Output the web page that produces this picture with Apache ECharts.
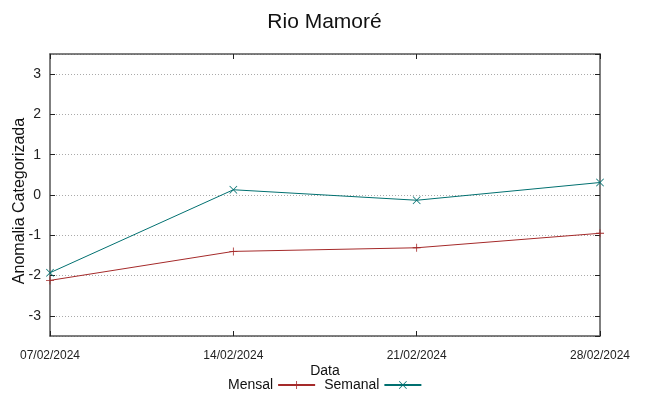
<!DOCTYPE html>
<html>
  <head>
    <meta charset="utf-8">
    <title>Rio Mamoré</title>
    <style>
      html, body {
        margin: 0;
        padding: 0;
        width: 100%;
        height: 100%;
        background: #fff;
      }
      #chart {
        width: 649px;
        height: 396px;
      }
    </style>
  </head>
  <body>
    <div id="chart"></div>
    <script src="https://cdn.jsdelivr.net/npm/echarts@6/dist/echarts.min.js"></script>
    <script type="text/javascript">

      const dates = ['07/02/2024', '14/02/2024', '21/02/2024', '28/02/2024'];
      const mensal = [-2.12, -1.40, -1.31, -0.95];
      const semanal = [-1.93, 0.13, -0.13, 0.31];

      const font = 'Liberation Sans, Arial, sans-serif';
      const frameColor = '#555';

      // gnuplot style point markers, drawn as thin filled shapes
      const plusMark = 'path://M0,4.5H10V5.5H0Z M4.5,0H5.5V10H4.5Z';
      const crossMark = 'path://M0,0.7L0.7,0L10,9.3L9.3,10Z M9.3,0L10,0.7L0.7,10L0,9.3Z';

      const frameAxis = {
        axisLine: { show: true, onZero: false, lineStyle: { color: frameColor, width: 1.5 } },
        axisTick: { show: true, inside: true, length: 5, lineStyle: { color: '#222', width: 1 } }
      };

      const makeSeries = (name, values, color, mark) => ({
        name: name,
        type: 'line',
        data: values,
        symbol: mark,
        symbolSize: 8,
        showSymbol: true,
        lineStyle: { color: color, width: 1 },
        itemStyle: { color: color },
        emphasis: { disabled: true },
        animation: false
      });

      const chart = echarts.init(document.getElementById('chart'));
      chart.setOption({
        animation: false,
        title: {
          text: 'Rio Mamoré',
          left: 'center',
          top: 7,
          textStyle: { fontFamily: font, fontSize: 21, fontWeight: 'normal', color: '#111' }
        },
        legend: {
          left: 223,
          top: 373,
          align: 'right',
          itemWidth: 37,
          itemHeight: 10,
          itemGap: 8,
          textStyle: { fontFamily: font, fontSize: 14, color: '#111' },
          data: ['Mensal', 'Semanal']
        },
        grid: { left: 50, right: 49, top: 54, bottom: 60, containLabel: false, outerBoundsMode: 'none' },
        xAxis: [
          Object.assign({
            type: 'category',
            data: dates,
            boundaryGap: false,
            name: 'Data',
            nameLocation: 'middle',
            nameGap: 28,
            nameMoveOverlap: false,
            nameTextStyle: { fontFamily: font, fontSize: 14, color: '#111' },
            axisLabel: { fontFamily: font, fontSize: 12, color: '#222', margin: 14, showMinLabel: true, showMaxLabel: true, interval: 0 },
            splitLine: { show: false }
          }, frameAxis),
          Object.assign({
            type: 'category',
            data: dates,
            boundaryGap: false,
            position: 'top',
            axisLabel: { show: false },
            splitLine: { show: false }
          }, frameAxis)
        ],
        yAxis: [
          Object.assign({
            type: 'value',
            min: -3.5,
            max: 3.5,
            splitNumber: 7,
            name: 'Anomalia Categorizada',
            nameLocation: 'middle',
            nameGap: 22,
            nameMoveOverlap: false,
            nameTextStyle: { fontFamily: font, fontSize: 16, color: '#111', padding: [0, 0, 0, -12] },
            axisLabel: {
              fontFamily: font, fontSize: 14, color: '#222', margin: 9,
              showMinLabel: false, showMaxLabel: false
            },
            splitLine: { show: true, lineStyle: { color: '#aaa', type: [1, 2], width: 1 } }
          }, frameAxis),
          Object.assign({
            type: 'value',
            min: -3.5,
            max: 3.5,
            splitNumber: 7,
            position: 'right',
            axisLabel: { show: false },
            splitLine: { show: false }
          }, frameAxis)
        ],
        series: [
          makeSeries('Mensal', mensal, '#a52a2a', plusMark),
          makeSeries('Semanal', semanal, '#007070', crossMark)
        ]
      });
    </script>
  </body>
</html>
